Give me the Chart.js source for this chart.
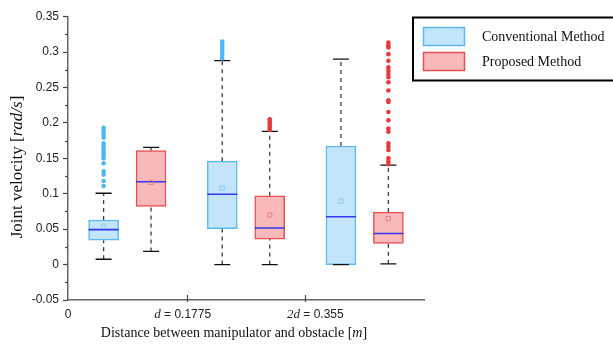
<!DOCTYPE html>
<html>
<head>
<meta charset="utf-8">
<script src="https://cdn.jsdelivr.net/npm/chart.js@4.4.0/dist/chart.umd.min.js"></script>
<style>
  html, body { margin: 0; padding: 0; background: #fff; }
  canvas { display: block; }
</style>
</head>
<body>
<canvas id="boxChart" width="613" height="346"></canvas>
<script>
// Joint velocity box plots, conventional vs proposed, at three distance bands

const D = 0.1775;                               // d [m]
const groupCenters = [0.5 * D, 1.5 * D, 2.5 * D];
const xTickValues = [0, D, 2 * D];
// [italic part, plain part]
const xTickLabels = [['', '0'], ['d', ' = 0.1775'], ['2d', ' = 0.355']];

const seriesLabels = ['Conventional Method', 'Proposed Method'];

// Conventional method
const convLow    = [0.0075, 0.0000, 0.0000];
const convQ1     = [0.0345, 0.0508, 0.0000];
const convMedian = [0.0494, 0.0993, 0.0676];
const convQ3     = [0.0629, 0.1460, 0.1674];
const convHigh   = [0.1007, 0.2880, 0.2900];
const convMean   = [0.0540, 0.1077, 0.0895];
const convOutliers = [
    [0.193, 0.190, 0.1865, 0.183, 0.179, 0.171, 0.168, 0.164, 0.160, 0.157, 0.154, 0.150, 0.143, 0.1315, 0.127, 0.118, 0.111],
    [0.3147, 0.311, 0.307, 0.303, 0.299, 0.295, 0.291],
    []
];

// Proposed method
const propLow    = [0.0186, 0.0000, 0.0010];
const propQ1     = [0.0820, 0.0360, 0.0298];
const propMedian = [0.1170, 0.0517, 0.0438];
const propQ3     = [0.1610, 0.0970, 0.0741];
const propHigh   = [0.1655, 0.1880, 0.1403];
const propMean   = [0.1160, 0.0700, 0.0648];
const propOutliers = [
    [],
    [0.205, 0.202, 0.199, 0.196, 0.193, 0.190],
    [0.3133, 0.3095, 0.3063, 0.297, 0.2877, 0.2783, 0.2737, 0.269, 0.2643, 0.2573, 0.2457,
     0.2317, 0.2294, 0.2154, 0.2037, 0.192, 0.1874, 0.171, 0.1664, 0.1618, 0.1501, 0.1455, 0.1417]
];

const SIDE_OFFSET = 0.2 * D;   // half spacing between the two boxes of a group

function buildSeries(label, side, low, q1, median, q3, high, mean, outliers, look) {
    const xs = groupCenters.map(function (c) { return c + side * SIDE_OFFSET; });

    const whisker = [];
    xs.forEach(function (x, i) {
        whisker.push({ x: x, y: low[i] }, { x: x, y: q1[i] }, { x: x, y: null });
        whisker.push({ x: x, y: q3[i] }, { x: x, y: high[i] }, { x: x, y: null });
    });

    const caps = [];
    xs.forEach(function (x, i) { caps.push({ x: x, y: low[i] }, { x: x, y: high[i] }); });

    const outs = [];
    xs.forEach(function (x, i) { outliers[i].forEach(function (v) { outs.push({ x: x, y: v }); }); });

    return [
        {
            type: 'line', role: 'whisker', order: 5,
            data: whisker, borderColor: '#3a3a3a', borderWidth: 1.3, borderDash: [4, 4],
            pointRadius: 0, spanGaps: false
        },
        {
            type: 'bar', role: 'box', label: label, order: 4,
            data: xs.map(function (x, i) { return { x: x, y: [q1[i], q3[i]] }; }),
            backgroundColor: look.fill, borderColor: look.stroke, borderWidth: 1.5,
            borderSkipped: false, barThickness: 30, grouped: false
        },
        {
            type: 'line', role: 'cap', order: 3, data: caps, showLine: false,
            pointStyle: 'line', pointRadius: 8, pointBorderColor: '#111', pointBorderWidth: 1.3
        },
        {
            type: 'line', role: 'median', order: 2, showLine: false,
            data: xs.map(function (x, i) { return { x: x, y: median[i] }; }),
            pointStyle: 'line', pointRadius: 15, pointBorderColor: '#3535ec', pointBorderWidth: 1.6
        },
        {
            type: 'line', role: 'mean', order: 1, showLine: false,
            data: xs.map(function (x, i) { return { x: x, y: mean[i] }; }),
            pointStyle: 'rect', pointRadius: 3, pointBackgroundColor: 'rgba(0,0,0,0)',
            pointBorderColor: look.mean, pointBorderWidth: 0.9
        },
        {
            type: 'line', role: 'outlier', order: 0, showLine: false, data: outs,
            pointStyle: 'circle', pointRadius: 2.3, pointBackgroundColor: look.dot, pointBorderWidth: 0
        }
    ];
}

const datasets = []
    .concat(buildSeries(seriesLabels[0], -1, convLow, convQ1, convMedian, convQ3, convHigh, convMean, convOutliers,
        { fill: '#c2e5fb', stroke: '#5bb8f2', mean: '#86c8f4', dot: '#4fb7f5' }))
    .concat(buildSeries(seriesLabels[1], 1, propLow, propQ1, propMedian, propQ3, propHigh, propMean, propOutliers,
        { fill: '#f9b9ba', stroke: '#e84f50', mean: '#ec7b7c', dot: '#e8393c' }));

const SERIF = '"Liberation Serif", "Times New Roman", serif';
const SANS = '"Liberation Sans", Arial, sans-serif';

// draw a row of [text, font] runs centred on (cx, cy)
function drawRuns(ctx, runs, cx, cy) {
    let total = 0;
    runs.forEach(function (r) { ctx.font = r[1]; total += ctx.measureText(r[0]).width; });
    let x = cx - total / 2;
    runs.forEach(function (r) {
        ctx.font = r[1];
        ctx.fillText(r[0], x, cy);
        x += ctx.measureText(r[0]).width;
    });
}

const decorPlugin = {
    id: 'decor',
    afterDraw: function (chart) {
        const ctx = chart.ctx;
        const area = chart.chartArea;
        const x = chart.scales.x;
        const y = chart.scales.y;
        ctx.save();

        // minor y ticks halfway between the major ones
        ctx.strokeStyle = '#444';
        ctx.lineWidth = 1.2;
        for (let i = 0; i < y.ticks.length - 1; i++) {
            const py = Math.round(y.getPixelForValue((y.ticks[i].value + y.ticks[i + 1].value) / 2)) + 0.5;
            ctx.beginPath(); ctx.moveTo(area.left - 3, py); ctx.lineTo(area.left, py); ctx.stroke();
        }

        // x ticks cross the axis line
        xTickValues.forEach(function (v) {
            if (v === 0) return;
            const px = Math.round(x.getPixelForValue(v)) + 0.5;
            ctx.beginPath(); ctx.moveTo(px, area.bottom - 5); ctx.lineTo(px, area.bottom + 2); ctx.stroke();
        });

        // x tick labels (italic d)
        ctx.fillStyle = '#222';
        ctx.textBaseline = 'middle';
        ctx.textAlign = 'left';
        const shifts = [0, -4, 10];
        xTickValues.forEach(function (v, i) {
            drawRuns(ctx, [[xTickLabels[i][0], 'italic 13px ' + SERIF], [xTickLabels[i][1], '12px ' + SANS]],
                x.getPixelForValue(v) + shifts[i], area.bottom + 15);
        });

        // axis titles
        ctx.fillStyle = '#111';
        drawRuns(ctx, [['Distance between manipulator and obstacle [', '14px ' + SERIF],
                       ['m', 'italic 14px ' + SERIF], [']', '14px ' + SERIF]],
            area.left + 166, area.bottom + 33);
        ctx.save();
        ctx.translate(18, 167);
        ctx.rotate(-Math.PI / 2);
        drawRuns(ctx, [['Joint velocity [', '17px ' + SERIF], ['rad/s', 'italic 17px ' + SERIF], [']', '17px ' + SERIF]], 0, 0);
        ctx.restore();

        // legend box, partly outside the canvas on the right
        ctx.strokeStyle = '#000';
        ctx.lineWidth = 2;
        ctx.strokeRect(413, 17.5, 230, 63);
        const boxes = chart.data.datasets.filter(function (ds) { return ds.role === 'box'; });
        boxes.forEach(function (ds, i) {
            const top = 27 + i * 25;
            ctx.fillStyle = ds.backgroundColor;
            ctx.fillRect(423, top, 42, 19);
            ctx.strokeStyle = ds.borderColor;
            ctx.lineWidth = 1.5;
            ctx.strokeRect(423.5, top + 0.5, 41, 18);
            ctx.fillStyle = '#111';
            ctx.font = '14px ' + SERIF;
            ctx.textAlign = 'left';
            ctx.fillText(ds.label, 482, top + 10);
        });
        ctx.restore();
    }
};

new Chart(document.getElementById('boxChart'), {
    type: 'bar',
    data: { datasets: datasets },
    options: {
        responsive: false,
        animation: false,
        events: [],
        devicePixelRatio: 1,
        layout: { padding: { left: 0, top: 14, right: 189, bottom: 0 } },
        plugins: { legend: { display: false }, tooltip: { enabled: false } },
        scales: {
            x: {
                type: 'linear', min: 0, max: 3 * D, offset: false,
                grid: { display: false, offset: false },
                border: { display: true, color: '#666', width: 1.5 },
                ticks: { display: false },
                afterBuildTicks: function (scale) {
                    scale.ticks = xTickValues.map(function (v) { return { value: v }; });
                },
                afterFit: function (scale) { scale.height = 46; }
            },
            y: {
                min: -0.05, max: 0.35,
                grid: { drawOnChartArea: false, drawTicks: true, tickLength: 5, tickColor: '#444', tickWidth: 1.2 },
                border: { display: true, color: '#666', width: 1.5 },
                ticks: {
                    stepSize: 0.05, padding: 4, color: '#222',
                    font: { family: SANS, size: 12 },
                    callback: function (v) { return String(Math.round(v * 1000) / 1000); }
                },
                afterFit: function (scale) { scale.width = 68; }
            }
        }
    },
    plugins: [decorPlugin]
});
</script>
</body>
</html>
